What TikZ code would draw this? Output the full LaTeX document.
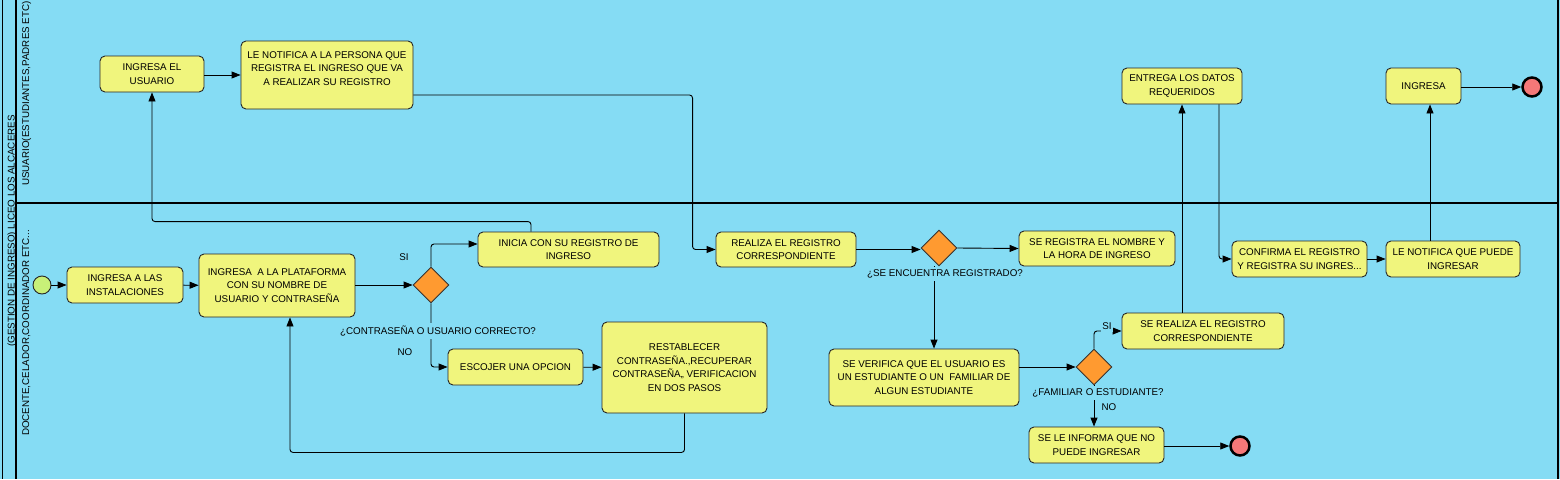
\documentclass[tikz,border=0pt]{standalone}
\usepackage{fontspec}
\setmainfont{Liberation Sans}
\usetikzlibrary{arrows.meta,shapes.geometric}

\definecolor{carril}{RGB}{133,220,244}
\definecolor{tareafill}{RGB}{240,245,125}
\definecolor{decifill}{RGB}{255,154,48}
\definecolor{iniciofill}{RGB}{200,240,120}
\definecolor{finfill}{RGB}{245,120,120}

\tikzset{
  tarea/.style={draw=black!85, line width=0.9pt, rounded corners=5pt, fill=tareafill,
    align=center, inner sep=2pt, font=\fontsize{9.8}{13.5}\selectfont},
  decision/.style={diamond, draw=black!80, line width=0.9pt, fill=decifill,
    minimum width=36pt, minimum height=36pt, inner sep=0pt},
  inicio/.style={circle, draw=black!85, line width=0.9pt, fill=iniciofill,
    minimum size=18pt, inner sep=0pt},
  fin/.style={circle, draw=black, line width=2.5pt, fill=finfill,
    minimum size=19pt, inner sep=0pt},
  flujo/.style={line width=0.9pt, rounded corners=3pt, -{Triangle[length=9pt,width=7pt]}},
  etiqueta/.style={fill=carril, inner xsep=1pt, inner ysep=2.5pt, font=\fontsize{9.8}{12}\selectfont},
  carriltexto/.style={rotate=90, anchor=base, font=\fontsize{9.8}{12}\selectfont}
}

\begin{document}
\begin{tikzpicture}[x=1pt,y=-1pt]
  \useasboundingbox (0,0) rectangle (1560,479);

  % Drawing pool and lanes
  \fill[carril] (0,0) rectangle (1560,479);
  \draw[line width=1.5pt] (2.5,0) -- (2.5,479);
  \draw[line width=2pt] (16,0) -- (16,479);
  \draw[line width=2pt] (16,203) -- (1558,203);
  \draw[line width=2pt] (1557.5,0) -- (1557.5,479);
  \node[carriltexto] (pool) at (14.5,231) {(GESTION DE INGRESO) LICEO LOS ALCACERES};
  \node[carriltexto] (carril1) at (29,93.5) {USUARIO(ESTUDIANTES,PADRES ETC)};
  \node[carriltexto] (carril2) at (29,333) {DOCENTE,CELADOR,COORDINADOR ETC...};

  % Lane USUARIO
  \node[tarea, minimum width=104pt, minimum height=36pt] (usuario) at (152,74) {INGRESA EL\\USUARIO};
  \node[tarea, minimum width=172pt, minimum height=68pt] (notifica) at (327,75)
    {LE NOTIFICA A LA PERSONA QUE\\REGISTRA EL INGRESO QUE VA\\A REALIZAR SU REGISTRO\\\mbox{}};
  \node[tarea, minimum width=120pt, minimum height=36pt] (entrega) at (1182,86) {ENTREGA LOS DATOS\\REQUERIDOS};
  \node[tarea, minimum width=75pt, minimum height=36pt] (ingresa) at (1423.5,86) {INGRESA};
  \node[fin] (fin1) at (1532,87) {};

  % Lane DOCENTE
  \node[inicio] (ini) at (42,285) {};
  \node[tarea, minimum width=116pt, minimum height=36pt] (instal) at (125,285) {INGRESA A LAS\\INSTALACIONES};
  \node[tarea, minimum width=156pt, minimum height=63pt] (plataf) at (277,285.5)
    {INGRESA \ A LA PLATAFORMA\\CON SU NOMBRE DE\\USUARIO Y CONTRASEÑA};
  \node[decision] (dec1) at (431,285) {};
  \node[tarea, minimum width=181pt, minimum height=35pt] (inicia) at (568.5,249.5) {INICIA CON SU REGISTRO DE\\INGRESO};
  \node[tarea, minimum width=135pt, minimum height=36pt] (escoger) at (515.5,367) {ESCOJER UNA OPCION};
  \node[tarea, minimum width=165pt, minimum height=91pt] (restab) at (684.5,367.5)
    {RESTABLECER\\CONTRASEÑA.,RECUPERAR\\CONTRASEÑA,, VERIFICACION\\EN DOS PASOS};
  \node[tarea, minimum width=140pt, minimum height=35pt] (realiza) at (786,249.5) {REALIZA EL REGISTRO\\CORRESPONDIENTE};
  \node[decision] (dec2) at (939,248) {};
  \node[tarea, minimum width=156pt, minimum height=35pt] (nombre) at (1097,248.5) {SE REGISTRA EL NOMBRE Y\\LA HORA DE INGRESO};
  \node[tarea, minimum width=190pt, minimum height=57pt] (verifica) at (924,377.5)
    {SE VERIFICA QUE EL USUARIO ES\\UN ESTUDIANTE O UN \ FAMILIAR DE\\ALGUN ESTUDIANTE};
  \node[decision] (dec3) at (1094,367) {};
  \node[tarea, minimum width=162pt, minimum height=36pt] (serealiza) at (1203,331) {SE REALIZA EL REGISTRO\\CORRESPONDIENTE};
  \node[tarea, minimum width=135pt, minimum height=36pt] (noingresa) at (1096.5,445) {SE LE INFORMA QUE NO\\PUEDE INGRESAR};
  \node[fin] (fin2) at (1240,446) {};
  \node[tarea, minimum width=135pt, minimum height=36pt] (confirma) at (1299.5,259) {CONFIRMA EL REGISTRO\\Y REGISTRA SU INGRES...};
  \node[tarea, minimum width=134pt, minimum height=36pt] (puede) at (1453,259) {LE NOTIFICA QUE PUEDE\\INGRESAR};

  % Drawing flows
  \draw[flujo] (ini) -- (instal);
  \draw[flujo] (instal) -- (plataf);
  \draw[flujo] (plataf.east |- dec1.west) -- (dec1.west);
  \draw[flujo] (dec1.north) |- ([yshift=5.5pt]inicia.west);
  \draw[flujo] (dec1.south) |- (escoger.west);
  \draw[flujo] (escoger) -- (restab);
  \draw[flujo] (restab.south) -- ++(0,39) -| ([xshift=13pt]plataf.south);
  \draw[flujo] ([xshift=-37.5pt]inicia.north) -- ++(0,-10) -| (usuario.south);
  \draw[flujo] (usuario.east |- notifica.west) -- (notifica.west);
  \draw[flujo] ([yshift=-20pt]notifica.east) -| ([xshift=-23pt]realiza.west) -- (realiza.west);
  \draw[flujo] (realiza.east) -- (realiza.east -| dec2.west);
  \draw[flujo] (dec2.east) -- (nombre.west);
  \coordinate (baja) at ([xshift=-5pt]dec2.south);
  \draw[flujo] (baja) -- (baja |- verifica.north);
  \draw[flujo] (verifica.east |- dec3.west) -- (dec3.west);
  \draw[flujo] (dec3.north) |- (serealiza.west);
  \draw[flujo] (dec3.south) -- (dec3.south |- noingresa.north);
  \draw[flujo] (noingresa.east |- fin2) -- (fin2);
  \draw[flujo] (entrega.south |- serealiza.north) -- (entrega.south);
  \draw[flujo] ([xshift=37pt]entrega.south) |- (confirma.west);
  \draw[flujo] (confirma) -- (puede);
  \coordinate (sube) at ([xshift=6.5pt]ingresa.south);
  \draw[flujo] (sube |- puede.north) -- (sube);
  \draw[flujo] (ingresa.east |- fin1) -- (fin1);

  % Labels of gateways
  \node[etiqueta] (si1) at (404,257) {SI};
  \node[etiqueta] (pregunta1) at (438,331) {¿CONTRASEÑA O USUARIO CORRECTO?};
  \node[etiqueta] (no1) at (405,352) {NO};
  \node[etiqueta] (pregunta2) at (945,274) {¿SE ENCUENTRA REGISTRADO?};
  \node[etiqueta] (si2) at (1107,326) {SI};
  \node[etiqueta] (pregunta3) at (1098,393) {¿FAMILIAR O ESTUDIANTE?};
  \node[etiqueta] (no2) at (1109,407) {NO};
\end{tikzpicture}
\end{document}
